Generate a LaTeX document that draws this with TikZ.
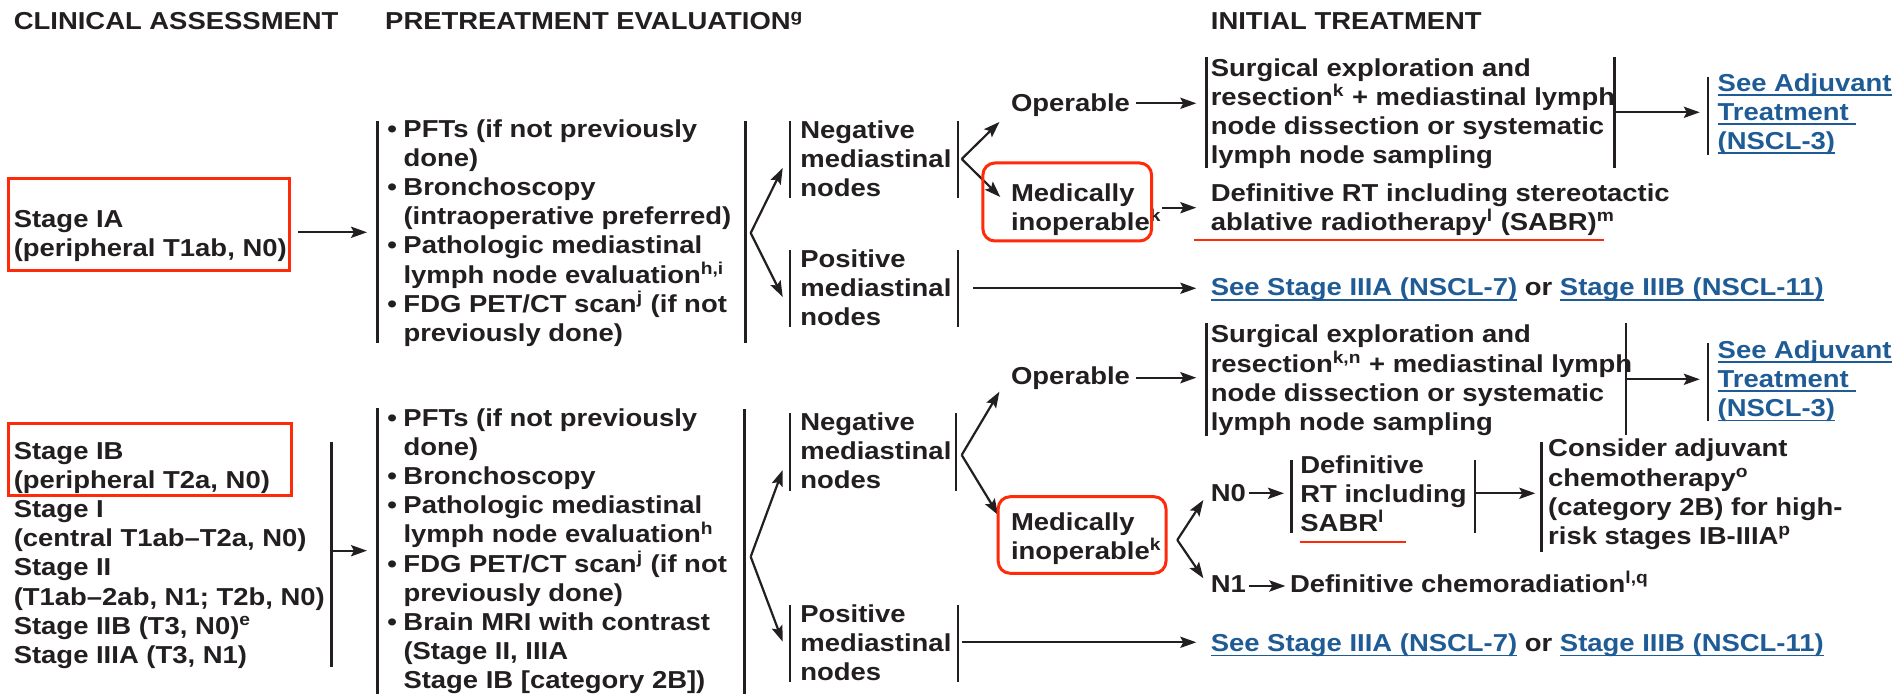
\documentclass[tikz,border=0pt]{standalone}
\usepackage{fontspec}
\setmainfont{Liberation Sans}[FakeStretch=1.12]
\usetikzlibrary{arrows.meta}
\definecolor{ink}{HTML}{231F20}
\definecolor{linkblue}{HTML}{1F5C96}
\definecolor{redmark}{HTML}{FF2A0A}
\newlength\lnkw
\newcommand\lnk[1]{\settowidth\lnkw{#1}\rlap{\rule[-2.4pt]{\lnkw}{0.9pt}}#1}
\newcommand\sups[1]{\textsuperscript{#1}}
\newcommand\bul{\llap{\textbullet\hspace{3.2pt}}}
\tikzset{
  txt/.style={anchor=base west, inner sep=0pt, align=left, text=ink,
    font=\fontsize{12.25}{14.6}\selectfont\bfseries},
  lnktxt/.style={txt, text=linkblue},
  bar/.style={draw=ink, line width=1.3pt},
  conn/.style={draw=ink, line width=1.1pt, -{Stealth[length=8pt,width=5.6pt,inset=1.5pt]}},
  redbox/.style={draw=redmark, line width=1.5pt},
  redline/.style={draw=redmark, line width=1pt},
}
\begin{document}
\begin{tikzpicture}[x=0.5pt,y=-0.5pt]
\useasboundingbox (0,0) rectangle (1903,694);
\fill[white] (0,0) rectangle (1903,694);
% headers
\node[txt] (h1) at (13.4,30) {CLINICAL ASSESSMENT};
\node[txt] (h2) at (384.8,30) {PRETREATMENT EVALUATION\sups{g}};
\node[txt] (h3) at (1210.5,30) {INITIAL TREATMENT};
% ===== top row =====  (multi-line nodes are placed by the baseline of their last line)
\node[txt] (sIA) at (13.4,256.4) {Stage IA\\(peripheral T1ab, N0)};
\draw[redbox] (8.9,179) rectangle (289.3,271);
\coordinate (sIAo) at (298.2,232.3);
\coordinate (pftAi) at (367,232.3);
\draw[conn] (sIAo) -- (pftAi);
\draw[bar] (377.2,121) -- (377.2,343);
\node[txt] (pftA) at (403.1,341.5) {\bul PFTs (if not previously\\done)\\\bul Bronchoscopy\\(intraoperative preferred)\\\bul Pathologic mediastinal\\lymph node evaluation\sups{h,i}\\\bul FDG PET/CT scan\sups{j} (if not\\previously done)};
\draw[bar] (745.3,121) -- (745.3,343);
\coordinate (pAo) at (750.7,233);
\coordinate (negAi) at (782.7,168);
\coordinate (posAi) at (782.7,297);
\draw[conn] (pAo) -- (negAi);
\draw[conn] (pAo) -- (posAi);
\draw[bar] (790.1,121) -- (790.1,198);
\node[txt] (negA) at (800,196.8) {Negative\\mediastinal\\nodes};
\draw[bar] (958,121) -- (958,198);
\coordinate (negAo) at (961.7,159);
\coordinate (opAi) at (999.4,122);
\coordinate (miAi) at (1000.3,197);
\draw[conn] (negAo) -- (opAi);
\draw[conn] (negAo) -- (miAi);
\node[txt] (opA) at (1010.6,112) {Operable};
\coordinate (opAo) at (1135.8,103.3);
\coordinate (surAi) at (1196.3,103.3);
\draw[conn] (opAo) -- (surAi);
\draw[bar] (1206.7,57) -- (1206.7,168);
\node[txt] (surA) at (1210.4,164) {Surgical exploration and\\resection\sups{k} + mediastinal lymph\\node dissection or systematic\\lymph node sampling};
\draw[bar] (1614.4,57) -- (1614.4,168);
\coordinate (surAo) at (1614.4,112.3);
\coordinate (adjAi) at (1699.8,112.3);
\draw[conn] (surAo) -- (adjAi);
\draw[bar] (1708.1,76.7) -- (1708.1,155);
\node[lnktxt] (adjA) at (1717.3,149.5) {\lnk{See Adjuvant}\\\lnk{Treatment }\\\lnk{(NSCL-3)}};
\node[txt] (miA) at (1010.6,230.5) {Medically\\inoperable\sups{k}};
\draw[redbox, rounded corners=6pt] (982.9,163) rectangle (1151.6,241);
\coordinate (miAo) at (1162,207.7);
\coordinate (rtAi) at (1196.3,207.7);
\draw[conn] (miAo) -- (rtAi);
\node[txt] (rtA) at (1210.4,230.5) {Definitive RT including stereotactic\\ablative radiotherapy\sups{l} (SABR)\sups{m}};
\draw[redline] (1193.9,240) -- (1604,240);
\draw[bar] (790.1,250) -- (790.1,327);
\node[txt] (posA) at (800,325.5) {Positive\\mediastinal\\nodes};
\draw[bar] (958,250) -- (958,327);
\coordinate (posAo) at (973.3,288.3);
\coordinate (seeAi) at (1196.3,288.3);
\draw[conn] (posAo) -- (seeAi);
\node[txt] (seeA) at (1210.4,296) {\textcolor{linkblue}{\lnk{See Stage IIIA (NSCL-7)}} or \textcolor{linkblue}{\lnk{Stage IIIB (NSCL-11)}}};
% ===== bottom row =====
\node[txt] (sIB) at (13.4,663.5) {Stage IB\\(peripheral T2a, N0)\\Stage I\\(central T1ab--T2a, N0)\\Stage II\\(T1ab--2ab, N1; T2b, N0)\\Stage IIB (T3, N0)\sups{e}\\Stage IIIA (T3, N1)};
\draw[redbox] (8.9,423.3) rectangle (291,495.7);
\draw[bar] (331.2,441.7) -- (331.2,667.3);
\coordinate (sIBo) at (331.2,550.7);
\coordinate (pftBi) at (367,550.7);
\draw[conn] (sIBo) -- (pftBi);
\draw[bar] (377.2,408.3) -- (377.2,694);
\node[txt] (pftB) at (403.1,689) {\bul PFTs (if not previously\\done)\\\bul Bronchoscopy\\\bul Pathologic mediastinal\\lymph node evaluation\sups{h}\\\bul FDG PET/CT scan\sups{j} (if not\\previously done)\\\bul Brain MRI with contrast\\(Stage II, IIIA\\Stage IB [category 2B])};
\draw[bar] (744.5,409) -- (744.5,694);
\coordinate (pBo) at (750.7,556.7);
\coordinate (negBi) at (782.7,470);
\coordinate (posBi) at (782.7,641.7);
\draw[conn] (pBo) -- (negBi);
\draw[conn] (pBo) -- (posBi);
\draw[bar] (790.1,413.3) -- (790.1,490.7);
\node[txt] (negB) at (800,488.8) {Negative\\mediastinal\\nodes};
\draw[bar] (956,413.3) -- (956,490.7);
\coordinate (negBo) at (961.7,455);
\coordinate (opBi) at (999.4,391.7);
\coordinate (miBi) at (998.2,515);
\draw[conn] (negBo) -- (opBi);
\draw[conn] (negBo) -- (miBi);
\node[txt] (opB) at (1010.6,385) {Operable};
\coordinate (opBo) at (1135.8,377.7);
\coordinate (surBi) at (1196.3,377.7);
\draw[conn] (opBo) -- (surBi);
\draw[bar] (1206.7,323.3) -- (1206.7,436);
\node[txt] (surB) at (1210.4,430.5) {Surgical exploration and\\resection\sups{k,n} + mediastinal lymph\\node dissection or systematic\\lymph node sampling};
\draw[bar] (1626,323.3) -- (1626,435);
\coordinate (surBo) at (1626,379.3);
\coordinate (adjBi) at (1699.8,379.3);
\draw[conn] (surBo) -- (adjBi);
\draw[bar] (1708.1,343.3) -- (1708.1,420.7);
\node[lnktxt] (adjB) at (1717.3,416.7) {\lnk{See Adjuvant}\\\lnk{Treatment }\\\lnk{(NSCL-3)}};
\node[txt] (miB) at (1010.6,559.5) {Medically\\inoperable\sups{k}};
\draw[redbox, rounded corners=6pt] (998.2,496.7) rectangle (1166,573.3);
\coordinate (miBo) at (1177.3,540);
\coordinate (n0i) at (1203.4,500);
\coordinate (n1i) at (1203.4,578.3);
\draw[conn] (miBo) -- (n0i);
\draw[conn] (miBo) -- (n1i);
\node[txt] (n0) at (1210.4,501.7) {N0};
\coordinate (n0o) at (1249,493.3);
\coordinate (rtBi) at (1284,493.3);
\draw[conn] (n0o) -- (rtBi);
\draw[bar] (1291.6,460) -- (1291.6,532.7);
\node[txt] (rtB) at (1300,531.7) {Definitive\\RT including\\SABR\sups{l}};
\draw[bar] (1474.9,460) -- (1474.9,532.7);
\draw[redline] (1300,542.3) -- (1406.2,542.3);
\coordinate (rtBo) at (1474.9,493.3);
\coordinate (chAi) at (1535.3,493.3);
\draw[conn] (rtBo) -- (chAi);
\draw[bar] (1541.5,441.7) -- (1541.5,551.7);
\node[txt] (chA) at (1547.8,544.5) {Consider adjuvant\\chemotherapy\sups{o}\\(category 2B) for high-\\risk stages IB-IIIA\sups{p}};
\node[txt] (n1) at (1210.4,592.5) {N1};
\coordinate (n1o) at (1249,586);
\coordinate (crBi) at (1285.4,586);
\draw[conn] (n1o) -- (crBi);
\node[txt] (crB) at (1289.6,592.5) {Definitive chemoradiation\sups{l,q}};
\draw[bar] (790.1,605) -- (790.1,681.7);
\node[txt] (posB) at (800,680.5) {Positive\\mediastinal\\nodes};
\draw[bar] (958,605) -- (958,681.7);
\coordinate (posBo) at (961.7,642.3);
\coordinate (seeBi) at (1196.3,642.3);
\draw[conn] (posBo) -- (seeBi);
\node[txt] (seeB) at (1210.4,651.7) {\textcolor{linkblue}{\lnk{See Stage IIIA (NSCL-7)}} or \textcolor{linkblue}{\lnk{Stage IIIB (NSCL-11)}}};
\end{tikzpicture}
\end{document}
